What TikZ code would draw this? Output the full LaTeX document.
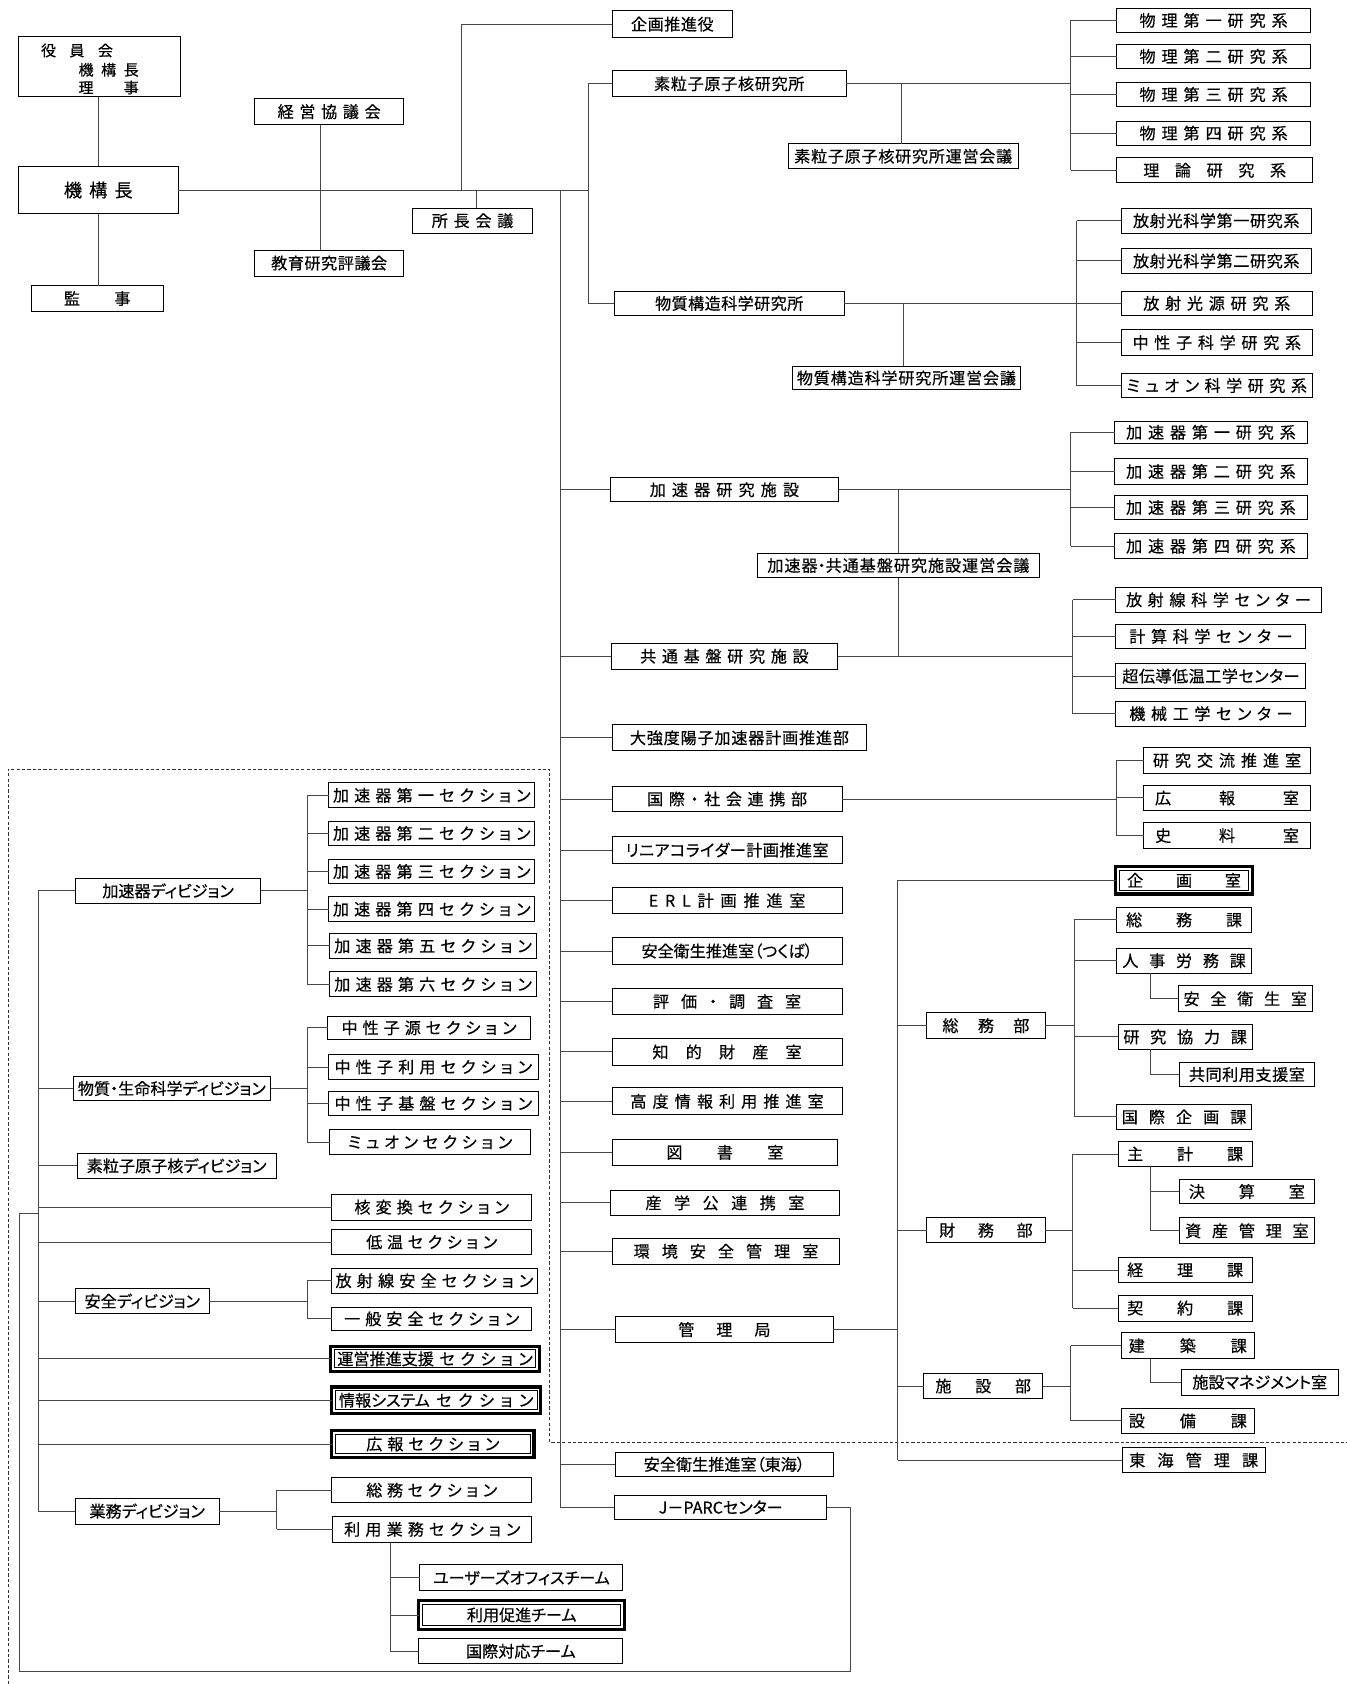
\documentclass[tikz,border=0pt]{standalone}
\usepackage{fontspec}
\setmainfont{Noto Sans CJK JP}[RawFeature={+palt},FakeBold=0.4]
\usetikzlibrary{calc}
\newcommand\spr[2]{\makebox[#1pt][s]{\spaceskip=0pt plus 1fil\relax #2}}
\newcommand\obox[7][]{\node[box,#1,minimum width=#5pt-#3pt,minimum height=#6pt-#4pt] (#2) at ({(#3+#5)/2},{(#4+#6)/2}) {#7};}
\newcommand\obbox[6]{\obox[line width=3pt]{#1}{#2}{#3}{#4}{#5}{#6}\draw[line width=0.8pt] ([xshift=3.4pt,yshift=-3.4pt]#1.north west) rectangle ([xshift=-3.4pt,yshift=3.4pt]#1.south east);}
\begin{document}
\begin{tikzpicture}[x=1pt,y=-1pt,
  box/.style={draw=black,line width=0.9pt,inner sep=0pt,outer sep=0pt,font=\fontsize{15}{18}\selectfont},
  ln/.style={draw=black!72,line width=0.9pt},
  dsh/.style={draw=black!80,line width=0.8pt,dash pattern=on 3pt off 2pt},
  txt/.style={inner sep=0pt,font=\fontsize{14}{16}\selectfont}]
\useasboundingbox (0,0) rectangle (1254,1568);
\fill[white] (0,0) rectangle (1254,1568);

% ---------- top left
\obox{yakuin}{17}{34}{168}{90}{}
\node[txt,anchor=west] (yk1) at (38,47) {\spr{67}{役 員 会}};
\node[txt,anchor=west] (yk2) at (73,65) {\spr{56}{機 構 長}};
\node[txt,anchor=west] (yk3) at (73,81.5) {\spr{56}{理 事}};
\obox[font=\fontsize{17}{20}\selectfont]{kikou}{17}{155}{166}{199}{\spr{64}{機 構 長}}
\obox{kanji}{29}{266}{152}{290}{\spr{62}{監 事}}
\obox{keiei}{237}{92}{376}{116}{\spr{96}{経 営 協 議 会}}
\obox{kyoiku}{237}{233}{376}{257}{\spr{108}{教 育 研 究 評 議 会}}
\obox{shocho}{384}{194}{496}{217}{\spr{76}{所 長 会 議}}

% ---------- middle column
\obox{kikakuy}{570}{10}{682}{35}{\spr{77}{企 画 推 進 役}}
\obox{soryu}{570}{66}{788}{90}{\spr{140}{素 粒 子 原 子 核 研 究 所}}
\obox{soryuU}{734}{134}{948}{157}{\spr{203}{素 粒 子 原 子 核 研 究 所 運 営 会 議}}
\obox{bus}{572}{271}{786}{294}{\spr{138}{物 質 構 造 科 学 研 究 所}}
\obox{busU}{738}{341}{950}{363}{\spr{204}{物 質 構 造 科 学 研 究 所 運 営 会 議}}
\obox{kas}{568}{445}{781}{467}{\spr{139}{加 速 器 研 究 施 設}}
\obox{kasU}{705}{515}{968}{538}{\spr{244}{加 速 器・共 通 基 盤 研 究 施 設 運 営 会 議}}
\obox{kyo}{569}{599}{780}{623}{\spr{157}{共 通 基 盤 研 究 施 設}}
\obox{dai}{570}{675}{807}{699}{\spr{204}{大 強 度 陽 子 加 速 器 計 画 推 進 部}}
\obox{kok}{570}{732}{784}{756}{\spr{149}{国 際 ・ 社 会 連 携 部}}
\obox{lin}{570}{779}{784}{804}{\spr{189}{リ ニ ア コ ラ イ ダ ー 計 画 推 進 室}}
\obox{erl}{570}{826}{784}{851}{\spr{146}{E R L 計 画 推 進 室}}
\obox{antk}{570}{873}{784}{898}{安全衛生推進室（つくば）}
\obox{hyo}{570}{920}{784}{945}{\spr{138}{評 価 ・ 調 査 室}}
\obox{chi}{570}{967}{784}{992}{\spr{139}{知 的 財 産 室}}
\obox{kodo}{570}{1013}{784}{1038}{\spr{180}{高 度 情 報 利 用 推 進 室}}
\obox{tosho}{570}{1061}{780}{1085}{\spr{109}{図 書 室}}
\obox{sang}{568}{1108}{782}{1132}{\spr{148}{産 学 公 連 携 室}}
\obox{kank}{570}{1153}{782}{1177}{\spr{172}{環 境 安 全 管 理 室}}
\obox{kanri}{573}{1226}{776}{1250}{\spr{86}{管 理 局}}
\obox{antt}{573}{1352}{776}{1375}{安全衛生推進室（東海）}
\obox{jparc}{572}{1392}{770}{1415}{J－PARCセンター}

% ---------- right column
\obox{p1}{1040}{8}{1220}{30}{\spr{138}{物 理 第 一 研 究 系}}
\obox{p2}{1040}{41}{1220}{64}{\spr{138}{物 理 第 二 研 究 系}}
\obox{p3}{1040}{77}{1220}{99}{\spr{138}{物 理 第 三 研 究 系}}
\obox{p4}{1040}{113}{1220}{135}{\spr{138}{物 理 第 四 研 究 系}}
\obox{p5}{1040}{147}{1222}{170}{\spr{133}{理 論 研 究 系}}
\obox{r1}{1044}{194}{1221}{217}{\spr{155}{放 射 光 科 学 第 一 研 究 系}}
\obox{r2}{1044}{231}{1221}{255}{\spr{155}{放 射 光 科 学 第 二 研 究 系}}
\obox{r3}{1044}{271}{1222}{294}{\spr{137}{放 射 光 源 研 究 系}}
\obox{r4}{1044}{307}{1222}{331}{\spr{157}{中 性 子 科 学 研 究 系}}
\obox{r5}{1044}{348}{1222}{370}{\spr{168}{ミ ュ オ ン 科 学 研 究 系}}
\obox{a1}{1038}{392}{1217}{413}{\spr{158}{加 速 器 第 一 研 究 系}}
\obox{a2}{1038}{427}{1217}{451}{\spr{158}{加 速 器 第 二 研 究 系}}
\obox{a3}{1038}{461}{1217}{484}{\spr{158}{加 速 器 第 三 研 究 系}}
\obox{a4}{1038}{497}{1217}{520}{\spr{158}{加 速 器 第 四 研 究 系}}
\obox{c1}{1039}{547}{1230}{570}{\spr{172}{放 射 線 科 学 セ ン タ ー}}
\obox{c2}{1039}{581}{1216}{604}{\spr{152}{計 算 科 学 セ ン タ ー}}
\obox{c3}{1039}{618}{1216}{641}{\spr{165}{超 伝 導 低 温 工 学 セ ン タ ー}}
\obox{c4}{1039}{653}{1216}{676}{\spr{152}{機 械 工 学 セ ン タ ー}}
\obox{k1}{1065}{696}{1220}{720}{\spr{138}{研 究 交 流 推 進 室}}
\obox{k2}{1065}{731}{1220}{755}{\spr{134}{広 報 室}}
\obox{k3}{1065}{766}{1220}{790}{\spr{134}{史 料 室}}

% ---------- kanri subtree
\obbox{kikakus}{1039}{807}{1166}{832.5}{\spr{106}{企 画 室}}
\obox{somubu}{863}{943}{973}{967}{\spr{81}{総 務 部}}
\obox{somuka}{1040}{845}{1165}{868}{\spr{108}{総 務 課}}
\obox{jinji}{1040}{883}{1165}{906}{\spr{115}{人 事 労 務 課}}
\obox{eisei}{1097}{918}{1222}{942}{\spr{115}{安 全 衛 生 室}}
\obox{kenkyo}{1041}{954}{1166}{977}{\spr{115}{研 究 協 力 課}}
\obox{kyodo}{1098}{989}{1224}{1012}{\spr{108}{共 同 利 用 支 援 室}}
\obox{kokki}{1040}{1028}{1165}{1052}{\spr{116}{国 際 企 画 課}}
\obox{zaimu}{863}{1134}{973}{1157}{\spr{87}{財 務 部}}
\obox{shukei}{1041}{1063}{1166}{1086}{\spr{108}{主 計 課}}
\obox{kessan}{1098}{1098}{1224}{1121}{\spr{108}{決 算 室}}
\obox{shisan}{1098}{1134}{1224}{1158}{\spr{115}{資 産 管 理 室}}
\obox{keiri}{1041}{1171}{1166}{1194}{\spr{108}{経 理 課}}
\obox{keiyaku}{1041}{1206}{1166}{1230}{\spr{108}{契 約 課}}
\obox{shisetsu}{860}{1279}{971}{1302}{\spr{89}{施 設 部}}
\obox{kenchiku}{1044}{1241}{1168}{1265}{\spr{110}{建 築 課}}
\obox{manage}{1100}{1275}{1246}{1299}{施設マネジメント室}
\obox{setsubi}{1044}{1311}{1168}{1335}{\spr{110}{設 備 課}}
\obox{tokai}{1045}{1348}{1178}{1371}{\spr{120}{東 海 管 理 課}}

% ---------- left column
\obox{kaD}{70}{818}{243}{841}{加速器ディビジョン}
\obox{s1}{306}{729}{498}{752}{\spr{184}{加 速 器 第 一 セ ク シ ョ ン}}
\obox{s2}{306}{765}{498}{787}{\spr{184}{加 速 器 第 二 セ ク シ ョ ン}}
\obox{s3}{306}{800}{498}{823}{\spr{184}{加 速 器 第 三 セ ク シ ョ ン}}
\obox{s4}{306}{835}{498}{858}{\spr{184}{加 速 器 第 四 セ ク シ ョ ン}}
\obox{s5}{307}{869.5}{499.5}{892}{\spr{184}{加 速 器 第 五 セ ク シ ョ ン}}
\obox{s6}{307}{905}{499.5}{928}{\spr{184}{加 速 器 第 六 セ ク シ ョ ン}}
\obox{bsD}{68}{1002}{252}{1025}{物質・生命科学ディビジョン}
\obox{n1}{305}{946}{494}{968}{\spr{163}{中 性 子 源 セ ク シ ョ ン}}
\obox{n2}{306}{982}{501}{1005}{\spr{184}{中 性 子 利 用 セ ク シ ョ ン}}
\obox{n3}{306}{1016}{501}{1039}{\spr{184}{中 性 子 基 盤 セ ク シ ョ ン}}
\obox{n4}{307}{1052}{494}{1075}{\spr{153}{ミ ュ オ ン セ ク シ ョ ン}}
\obox{spD}{72}{1074}{257}{1097}{素粒子原子核ディビジョン}
\obox{kh}{309}{1112}{495}{1136}{\spr{144}{核 変 換 セ ク シ ョ ン}}
\obox{tei}{309}{1145}{495}{1168}{\spr{122}{低 温 セ ク シ ョ ン}}
\obox{anD}{70}{1200}{195}{1223}{安全ディビジョン}
\obox{hs}{309}{1181}{500}{1204}{\spr{184}{放 射 線 安 全 セ ク シ ョ ン}}
\obox{ip}{309}{1217}{495}{1239}{\spr{163}{一 般 安 全 セ ク シ ョ ン}}
\obbox{unei}{307.8}{1253.5}{502.3}{1277}{\spr{182}{運営推進支援 セ ク シ ョ ン}}
\obbox{joho}{308.7}{1291.5}{503.5}{1316}{\spr{181}{情報システム セ ク シ ョ ン}}
\obbox{koho}{308.7}{1332}{497.3}{1357}{\spr{124}{広 報 セ ク シ ョ ン}}
\obox{gyD}{70}{1395}{204}{1419}{業務ディビジョン}
\obox{som}{309}{1376}{495}{1399}{\spr{122}{総 務 セ ク シ ョ ン}}
\obox{riyo}{310}{1412}{495}{1436}{\spr{164}{利 用 業 務 セ ク シ ョ ン}}
\obox{t1}{391}{1457}{580}{1481}{ユーザーズオフィスチーム}
\obbox{t2}{390}{1490.5}{581.5}{1517}{利用促進チーム}
\obox{t3}{390}{1526}{580}{1549}{国際対応チーム}

% ---------- connectors: top
\coordinate (H) at (548,177);
\coordinate (T) at (522,177);
\coordinate (v299) at (298.6,0);
\coordinate (v430) at (430,177);
\coordinate (v443) at (443.6,0);
\draw[ln] (kikou.north) -- (kikou.north |- yakuin.south);
\draw[ln] (kikou.south) -- (kikou.south |- kanji.north);
\draw[ln] (kikou.east) -- (kikou.east -| H);
\draw[ln] (keiei.south -| v299) -- (kyoiku.north -| v299);
\draw[ln] (v430) |- (kikakuy.west);
\draw[ln] (shocho.north -| v443) -- (H -| v443);
\draw[ln] (soryu.west) -| (H);
\draw[ln] (H) |- (bus.west);
\draw[ln] (T) |- (jparc.west);
\foreach \n in {kas,kyo,dai,kok,lin,erl,antk,hyo,chi,kodo,tosho,sang,kank,kanri,antt}
  \draw[ln] (T |- \n.west) -- (\n.west);

% soryu
\coordinate (B1) at (997,0);
\coordinate (V1) at (839,0);
\draw[ln] (soryu.east) -- (soryu.east -| B1);
\draw[ln] (B1 |- p1.west) -- (B1 |- p5.west);
\foreach \n in {p1,p2,p3,p4,p5} \draw[ln] (B1 |- \n.west) -- (\n.west);
\draw[ln] (soryu.east -| V1) -- (soryuU.north -| V1);
% busshitsu
\coordinate (B2) at (1002.5,0);
\coordinate (V2) at (841.5,0);
\draw[ln] (bus.east) -- (bus.east -| B2);
\draw[ln] (B2 |- r1.west) -- (B2 |- r5.west);
\foreach \n in {r1,r2,r3,r4,r5} \draw[ln] (B2 |- \n.west) -- (\n.west);
\draw[ln] (bus.east -| V2) -- (busU.north -| V2);
% kasokuki
\coordinate (B3) at (997,0);
\coordinate (V3) at (836.7,0);
\draw[ln] (kas.east) -- (kas.east -| B3);
\draw[ln] (B3 |- a1.west) -- (B3 |- a4.west);
\foreach \n in {a1,a2,a3,a4} \draw[ln] (B3 |- \n.west) -- (\n.west);
\draw[ln] (kas.east -| V3) -- (kasU.north -| V3);
\draw[ln] (kasU.south -| V3) -- (kyo.east -| V3);
% kyotsu
\coordinate (B4) at (999,0);
\draw[ln] (kyo.east) -- (kyo.east -| B4);
\draw[ln] (B4 |- c1.west) -- (B4 |- c4.west);
\foreach \n in {c1,c2,c3,c4} \draw[ln] (B4 |- \n.west) -- (\n.west);
% kokusai
\coordinate (B5) at (1040,0);
\draw[ln] (kok.east) -- (kok.east -| B5);
\draw[ln] (B5 |- k1.west) -- (B5 |- k3.west);
\foreach \n in {k1,k2,k3} \draw[ln] (B5 |- \n.west) -- (\n.west);
% kanri
\coordinate (K) at (836,0);
\draw[ln] (kanri.east) -- (kanri.east -| K);
\draw[ln] (K |- kikakus.west) -- (K |- tokai.west);
\foreach \n in {kikakus,somubu,zaimu,shisetsu,tokai} \draw[ln] (K |- \n.west) -- (\n.west);
\coordinate (B6) at (1000,0);
\coordinate (S6) at (1071.5,0);
\draw[ln] (somubu.east) -- (somubu.east -| B6);
\draw[ln] (B6 |- somuka.west) -- (B6 |- kokki.west);
\foreach \n in {somuka,jinji,kenkyo,kokki} \draw[ln] (B6 |- \n.west) -- (\n.west);
\draw[ln] (jinji.south -| S6) |- (eisei.west);
\draw[ln] (kenkyo.south -| S6) |- (kyodo.west);
\coordinate (B7) at (999,0);
\draw[ln] (zaimu.east) -- (zaimu.east -| B7);
\draw[ln] (B7 |- shukei.west) -- (B7 |- keiyaku.west);
\foreach \n in {shukei,keiri,keiyaku} \draw[ln] (B7 |- \n.west) -- (\n.west);
\draw[ln] (shukei.south -| S6) |- (shisan.west);
\draw[ln] (S6 |- kessan.west) -- (kessan.west);
\coordinate (B8) at (997,0);
\draw[ln] (shisetsu.east) -- (shisetsu.east -| B8);
\draw[ln] (B8 |- kenchiku.west) -- (B8 |- setsubi.west);
\foreach \n in {kenchiku,setsubi} \draw[ln] (B8 |- \n.west) -- (\n.west);
\draw[ln] (kenchiku.south -| S6) |- (manage.west);

% ---------- left connectors
\coordinate (D) at (35.5,0);
\draw[ln] (D |- kaD.west) -- (D |- gyD.west);
\foreach \n in {kaD,bsD,spD,kh,tei,anD,unei,joho,koho,gyD} \draw[ln] (D |- \n.west) -- (\n.west);
\coordinate (S1) at (286,0);
\draw[ln] (kaD.east) -- (kaD.east -| S1);
\draw[ln] (S1 |- s1.west) -- (S1 |- s6.west);
\foreach \n in {s1,s2,s3,s4,s5,s6} \draw[ln] (S1 |- \n.west) -- (\n.west);
\draw[ln] (bsD.east) -- (bsD.east -| S1);
\draw[ln] (S1 |- n1.west) -- (S1 |- n4.west);
\foreach \n in {n1,n2,n3,n4} \draw[ln] (S1 |- \n.west) -- (\n.west);
\draw[ln] (anD.east) -- (anD.east -| S1);
\draw[ln] (S1 |- hs.west) -- (S1 |- ip.west);
\foreach \n in {hs,ip} \draw[ln] (S1 |- \n.west) -- (\n.west);
\coordinate (S2) at (257.5,0);
\draw[ln] (gyD.east) -- (gyD.east -| S2);
\draw[ln] (S2 |- som.west) -- (S2 |- riyo.west);
\foreach \n in {som,riyo} \draw[ln] (S2 |- \n.west) -- (\n.west);
\coordinate (S3) at (363.5,0);
\draw[ln] (riyo.south -| S3) |- (t3.west);
\draw[ln] (S3 |- t1.west) -- (t1.west);
\draw[ln] (S3 |- t2.west) -- (t2.west);
\coordinate (L1) at (792,1556);
\coordinate (L2) at (18,1130);
\draw[ln] (jparc.east) -| (L1) -| (L2) -- (L2 -| D);

% ---------- dashed boundary
\draw[dsh] (7.5,1568) -- (7.5,716) -- (512,716) -- (512,1343) -- (1254,1343);
\end{tikzpicture}
\end{document}
